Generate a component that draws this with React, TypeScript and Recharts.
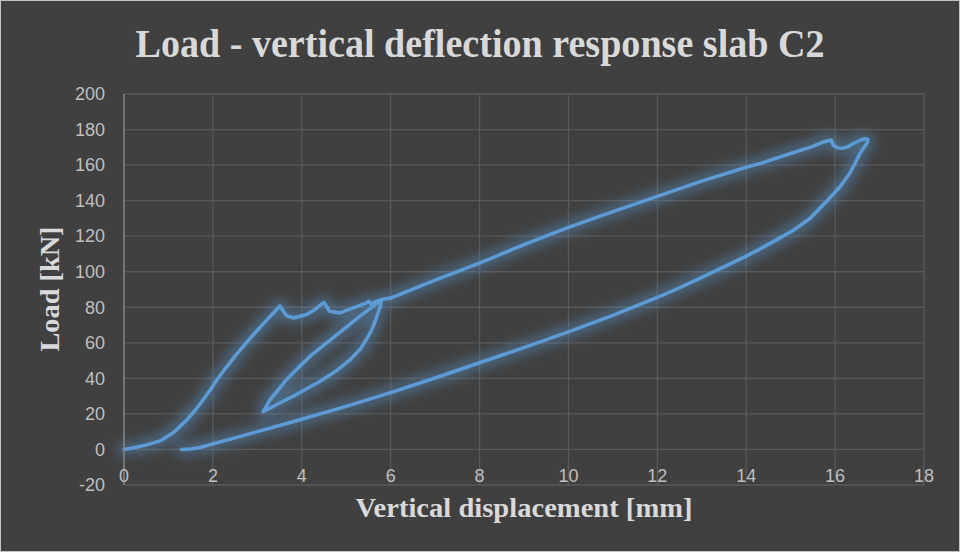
import React from 'react';
import { LineChart, Line, XAxis, YAxis, CartesianGrid } from 'recharts';

// displacement [mm] / load [kN], in loading order
const firstLoadDisp = [0, 0.25, 0.51, 0.81, 1.11, 1.41, 1.56, 1.71, 1.94, 2.1, 2.31, 2.53, 2.75, 2.98, 3.29, 3.42, 3.51, 3.58, 3.66, 3.81, 4.11, 4.3, 4.43, 4.5, 4.56, 4.62, 4.86, 5.16, 5.36, 5.46, 5.51, 5.56, 5.62, 5.69, 5.8];
const firstLoadKn = [0, 1.1, 2.6, 4.8, 9.4, 16.5, 20.8, 25.5, 33.5, 39.5, 46.5, 53.5, 60, 66.5, 74.9, 78.3, 80.8, 78, 75.2, 74, 75.9, 78.8, 81.5, 82.8, 80.5, 77.8, 76.8, 79.6, 81.5, 82.5, 83.4, 81.6, 82.6, 83.5, 84.4];

const firstUnloadDisp = [5.76, 5.69, 5.62, 5.54, 5.43, 5.31, 5.09, 4.79, 4.48, 4.19, 3.81, 3.44, 3.13];
const firstUnloadKn = [80, 75, 70, 65.6, 61, 56.2, 50.6, 44.5, 39.4, 35.3, 30, 25.3, 21.3];

const reloadDisp = [3.29, 3.47, 3.66, 3.96, 4.19, 4.56, 4.94, 5.31, 5.61, 5.8];
const reloadKn = [28, 33.5, 39.4, 46.9, 52.5, 60, 67.5, 75, 80.6, 84.4];

const secondLoadDisp = [6, 7, 8, 9, 10, 11, 12, 13, 14, 14.32, 15, 15.5, 15.74, 15.91, 15.96, 16.05, 16.15, 16.29, 16.42, 16.56, 16.67, 16.74];
const secondLoadKn = [85.2, 95.3, 104.9, 115.2, 125, 133.8, 142.4, 151, 158.8, 161, 166.5, 170.5, 173, 174.1, 171.2, 169.8, 169.4, 170.3, 172.3, 174, 174.8, 174.4];

const finalUnloadDisp = [16.72, 16.65, 16.56, 16.45, 16.33, 16.11, 15.8, 15.44, 15.07, 14.7, 14.32, 14, 13.5, 13, 12.5, 12, 11, 10, 9, 8, 7, 6, 5, 4, 3.5, 3, 2.5, 2.15, 1.9, 1.7, 1.5, 1.29];
const finalUnloadKn = [172.5, 170, 166.6, 161, 155.4, 147.8, 139.4, 130.1, 123.5, 118.2, 113, 108.8, 102.7, 96.8, 91, 85.5, 75.5, 66.2, 57.3, 48.8, 40.2, 32, 24.2, 17, 13.5, 10, 6.5, 4.2, 2.4, 1.1, 0.3, 0];

const xTicks = [0, 2, 4, 6, 8, 10, 12, 14, 16, 18];
const yTicks = [-20, 0, 20, 40, 60, 80, 100, 120, 140, 160, 180, 200];

const phases = [
  [firstLoadDisp, firstLoadKn],
  [firstUnloadDisp, firstUnloadKn],
  [reloadDisp, reloadKn],
  [secondLoadDisp, secondLoadKn],
  [finalUnloadDisp, finalUnloadKn],
];

const data = phases.flatMap(([xs, ys]) => xs.map((x, i) => ({ x, load: ys[i] })));

const BG = '#404040';
const GRID = '#595959';
const TEXT = '#d9d9d9';
const TICK = '#bfbfbf';
const BLUE = '#5b9bd5';

const XTick = ({ x, y, payload }: any) => (
  <text x={x} y={y - 3} textAnchor="middle" fill={TICK} fontSize={18} fontFamily="'Liberation Sans', Arial, sans-serif">
    {payload.value}
  </text>
);

const YTick = ({ x, y, payload }: any) => (
  <text x={x - 19} y={y} dy="0.35em" textAnchor="end" fill={TICK} fontSize={18} fontFamily="'Liberation Sans', Arial, sans-serif">
    {payload.value}
  </text>
);

const serif = "'Liberation Serif', 'Times New Roman', serif";

export default function App() {
  return (
    <div style={{ position: 'absolute', left: 0, top: 0, width: 960, height: 552, background: BG, boxShadow: 'inset 0 0 0 1px #c4c4c4' }}>
      <LineChart width={960} height={552} data={data} margin={{ top: 94, right: 36, bottom: 37, left: 64 }}>
        <defs>
          <filter id="glow" filterUnits="userSpaceOnUse" x="0" y="0" width="960" height="552">
            <feMorphology in="SourceAlpha" operator="dilate" radius="4" result="thick" />
            <feGaussianBlur in="thick" stdDeviation="6" result="blur" />
            <feFlood floodColor={BLUE} floodOpacity="0.42" />
            <feComposite in2="blur" operator="in" result="halo" />
            <feMerge>
              <feMergeNode in="halo" />
              <feMergeNode in="SourceGraphic" />
            </feMerge>
          </filter>
        </defs>
        <CartesianGrid stroke={GRID} strokeWidth={1.3} />
        <XAxis
          dataKey="x"
          type="number"
          domain={[0, 18]}
          ticks={xTicks}
          height={30}
          axisLine={false}
          tickLine={false}
          tickSize={0}
          tickMargin={0}
          tick={<XTick />}
          interval={0}
        />
        <YAxis
          type="number"
          domain={[-20, 200]}
          ticks={yTicks}
          width={60}
          axisLine={{ stroke: '#808080', strokeWidth: 1.5 }}
          tickLine={false}
          tickSize={0}
          tickMargin={0}
          tick={<YTick />}
          interval={0}
        />
        <Line
          dataKey="load"
          type="linear"
          stroke={BLUE}
          strokeWidth={3.5}
          strokeLinejoin="round"
          strokeLinecap="round"
          dot={false}
          filter="url(#glow)"
          isAnimationActive={false}
        />
      </LineChart>
      <svg width={960} height={552} style={{ position: 'absolute', left: 0, top: 0, pointerEvents: 'none' }}>
        <text x={480} y={57} textAnchor="middle" fill={TEXT} fontFamily={serif} fontWeight="bold" fontSize={40} textLength={689} lengthAdjust="spacingAndGlyphs">
          Load - vertical deflection response slab C2
        </text>
        <text x={524} y={517} textAnchor="middle" fill={TEXT} fontFamily={serif} fontWeight="bold" fontSize={28} textLength={337} lengthAdjust="spacingAndGlyphs">
          Vertical displacement [mm]
        </text>
        <text x={0} y={0} transform="translate(59 289) rotate(-90)" textAnchor="middle" fill={TEXT} fontFamily={serif} fontWeight="bold" fontSize={28} textLength={125} lengthAdjust="spacingAndGlyphs">
          Load [kN]
        </text>
      </svg>
    </div>
  );
}
